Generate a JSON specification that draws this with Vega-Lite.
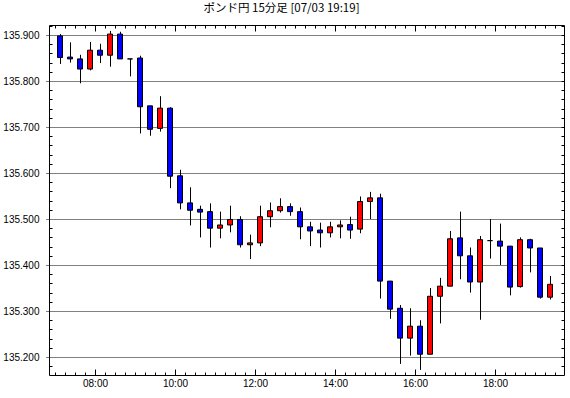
{
  "$schema": "https://vega.github.io/schema/vega-lite/v6.json",
  "width": 515,
  "height": 350,
  "autosize": {"type": "none"},
  "padding": {"left": 49, "top": 25, "right": 6, "bottom": 23},
  "background": "white",
  "config": {"view": {"stroke": "black", "strokeWidth": 1}},
  "title": {"text": "ポンド円 15分足 [07/03 19:19]", "font": "Noto Sans CJK JP", "fontSize": 11.5, "fontWeight": "normal", "color": "black", "anchor": "middle", "dx": -25, "offset": 6},
  "data": {"values": [
    {"t": "2024-07-03T07:00", "o": 135.898, "h": 135.902, "l": 135.837, "c": 135.851},
    {"t": "2024-07-03T07:15", "o": 135.852, "h": 135.884, "l": 135.840, "c": 135.848},
    {"t": "2024-07-03T07:30", "o": 135.848, "h": 135.857, "l": 135.795, "c": 135.826},
    {"t": "2024-07-03T07:45", "o": 135.826, "h": 135.885, "l": 135.823, "c": 135.867},
    {"t": "2024-07-03T08:00", "o": 135.867, "h": 135.881, "l": 135.839, "c": 135.856},
    {"t": "2024-07-03T08:15", "o": 135.856, "h": 135.909, "l": 135.831, "c": 135.902},
    {"t": "2024-07-03T08:30", "o": 135.902, "h": 135.907, "l": 135.848, "c": 135.848},
    {"t": "2024-07-03T08:45", "o": 135.848, "h": 135.848, "l": 135.810, "c": 135.848},
    {"t": "2024-07-03T09:00", "o": 135.850, "h": 135.855, "l": 135.686, "c": 135.744},
    {"t": "2024-07-03T09:15", "o": 135.746, "h": 135.746, "l": 135.681, "c": 135.695},
    {"t": "2024-07-03T09:30", "o": 135.697, "h": 135.767, "l": 135.690, "c": 135.741},
    {"t": "2024-07-03T09:45", "o": 135.741, "h": 135.743, "l": 135.567, "c": 135.593},
    {"t": "2024-07-03T10:00", "o": 135.594, "h": 135.607, "l": 135.521, "c": 135.535},
    {"t": "2024-07-03T10:15", "o": 135.535, "h": 135.569, "l": 135.486, "c": 135.519},
    {"t": "2024-07-03T10:30", "o": 135.521, "h": 135.529, "l": 135.460, "c": 135.515},
    {"t": "2024-07-03T10:45", "o": 135.516, "h": 135.534, "l": 135.438, "c": 135.480},
    {"t": "2024-07-03T11:00", "o": 135.480, "h": 135.516, "l": 135.458, "c": 135.487},
    {"t": "2024-07-03T11:15", "o": 135.487, "h": 135.529, "l": 135.471, "c": 135.499},
    {"t": "2024-07-03T11:30", "o": 135.499, "h": 135.506, "l": 135.438, "c": 135.444},
    {"t": "2024-07-03T11:45", "o": 135.444, "h": 135.466, "l": 135.413, "c": 135.448},
    {"t": "2024-07-03T12:00", "o": 135.448, "h": 135.529, "l": 135.441, "c": 135.505},
    {"t": "2024-07-03T12:15", "o": 135.505, "h": 135.536, "l": 135.482, "c": 135.518},
    {"t": "2024-07-03T12:30", "o": 135.518, "h": 135.545, "l": 135.514, "c": 135.527},
    {"t": "2024-07-03T12:45", "o": 135.527, "h": 135.534, "l": 135.507, "c": 135.516},
    {"t": "2024-07-03T13:00", "o": 135.516, "h": 135.525, "l": 135.456, "c": 135.483},
    {"t": "2024-07-03T13:15", "o": 135.483, "h": 135.494, "l": 135.441, "c": 135.474},
    {"t": "2024-07-03T13:30", "o": 135.476, "h": 135.492, "l": 135.438, "c": 135.470},
    {"t": "2024-07-03T13:45", "o": 135.470, "h": 135.494, "l": 135.460, "c": 135.483},
    {"t": "2024-07-03T14:00", "o": 135.483, "h": 135.497, "l": 135.458, "c": 135.487},
    {"t": "2024-07-03T14:15", "o": 135.488, "h": 135.505, "l": 135.457, "c": 135.476},
    {"t": "2024-07-03T14:30", "o": 135.478, "h": 135.549, "l": 135.469, "c": 135.538},
    {"t": "2024-07-03T14:45", "o": 135.538, "h": 135.559, "l": 135.500, "c": 135.546},
    {"t": "2024-07-03T15:00", "o": 135.546, "h": 135.555, "l": 135.327, "c": 135.365},
    {"t": "2024-07-03T15:15", "o": 135.365, "h": 135.365, "l": 135.283, "c": 135.304},
    {"t": "2024-07-03T15:30", "o": 135.306, "h": 135.313, "l": 135.185, "c": 135.241},
    {"t": "2024-07-03T15:45", "o": 135.241, "h": 135.306, "l": 135.203, "c": 135.267},
    {"t": "2024-07-03T16:00", "o": 135.267, "h": 135.280, "l": 135.172, "c": 135.206},
    {"t": "2024-07-03T16:15", "o": 135.206, "h": 135.350, "l": 135.206, "c": 135.332},
    {"t": "2024-07-03T16:30", "o": 135.332, "h": 135.372, "l": 135.273, "c": 135.354},
    {"t": "2024-07-03T16:45", "o": 135.354, "h": 135.474, "l": 135.354, "c": 135.457},
    {"t": "2024-07-03T17:00", "o": 135.459, "h": 135.516, "l": 135.369, "c": 135.420},
    {"t": "2024-07-03T17:15", "o": 135.420, "h": 135.438, "l": 135.340, "c": 135.363},
    {"t": "2024-07-03T17:30", "o": 135.363, "h": 135.463, "l": 135.281, "c": 135.455},
    {"t": "2024-07-03T17:45", "o": 135.453, "h": 135.500, "l": 135.414, "c": 135.453},
    {"t": "2024-07-03T18:00", "o": 135.452, "h": 135.490, "l": 135.400, "c": 135.441},
    {"t": "2024-07-03T18:15", "o": 135.441, "h": 135.441, "l": 135.334, "c": 135.352},
    {"t": "2024-07-03T18:30", "o": 135.353, "h": 135.460, "l": 135.351, "c": 135.455},
    {"t": "2024-07-03T18:45", "o": 135.455, "h": 135.457, "l": 135.384, "c": 135.437},
    {"t": "2024-07-03T19:00", "o": 135.437, "h": 135.437, "l": 135.327, "c": 135.330},
    {"t": "2024-07-03T19:15", "o": 135.330, "h": 135.376, "l": 135.325, "c": 135.358}
  ]},
  "layer": [
    {
      "mark": {"type": "rule", "color": "black", "strokeWidth": 1, "xOffset": 5.5},
      "encoding": {
        "x": {"field": "t", "type": "temporal",
          "scale": {"domain": [{"year": 2024, "month": 7, "date": 3, "hours": 6, "minutes": 51, "seconds": 0}, {"year": 2024, "month": 7, "date": 3, "hours": 19, "minutes": 43, "seconds": 30}], "nice": false, "padding": 0},
          "axis": {"orient": "bottom", "title": null, "domain": false, "grid": false,
            "values": [
              {"year": 2024, "month": 7, "date": 3, "hours": 7, "minutes": 0}, {"year": 2024, "month": 7, "date": 3, "hours": 7, "minutes": 15}, {"year": 2024, "month": 7, "date": 3, "hours": 7, "minutes": 30}, {"year": 2024, "month": 7, "date": 3, "hours": 7, "minutes": 45},
              {"year": 2024, "month": 7, "date": 3, "hours": 8, "minutes": 0}, {"year": 2024, "month": 7, "date": 3, "hours": 8, "minutes": 15}, {"year": 2024, "month": 7, "date": 3, "hours": 8, "minutes": 30}, {"year": 2024, "month": 7, "date": 3, "hours": 8, "minutes": 45},
              {"year": 2024, "month": 7, "date": 3, "hours": 9, "minutes": 0}, {"year": 2024, "month": 7, "date": 3, "hours": 9, "minutes": 15}, {"year": 2024, "month": 7, "date": 3, "hours": 9, "minutes": 30}, {"year": 2024, "month": 7, "date": 3, "hours": 9, "minutes": 45},
              {"year": 2024, "month": 7, "date": 3, "hours": 10, "minutes": 0}, {"year": 2024, "month": 7, "date": 3, "hours": 10, "minutes": 15}, {"year": 2024, "month": 7, "date": 3, "hours": 10, "minutes": 30}, {"year": 2024, "month": 7, "date": 3, "hours": 10, "minutes": 45},
              {"year": 2024, "month": 7, "date": 3, "hours": 11, "minutes": 0}, {"year": 2024, "month": 7, "date": 3, "hours": 11, "minutes": 15}, {"year": 2024, "month": 7, "date": 3, "hours": 11, "minutes": 30}, {"year": 2024, "month": 7, "date": 3, "hours": 11, "minutes": 45},
              {"year": 2024, "month": 7, "date": 3, "hours": 12, "minutes": 0}, {"year": 2024, "month": 7, "date": 3, "hours": 12, "minutes": 15}, {"year": 2024, "month": 7, "date": 3, "hours": 12, "minutes": 30}, {"year": 2024, "month": 7, "date": 3, "hours": 12, "minutes": 45},
              {"year": 2024, "month": 7, "date": 3, "hours": 13, "minutes": 0}, {"year": 2024, "month": 7, "date": 3, "hours": 13, "minutes": 15}, {"year": 2024, "month": 7, "date": 3, "hours": 13, "minutes": 30}, {"year": 2024, "month": 7, "date": 3, "hours": 13, "minutes": 45},
              {"year": 2024, "month": 7, "date": 3, "hours": 14, "minutes": 0}, {"year": 2024, "month": 7, "date": 3, "hours": 14, "minutes": 15}, {"year": 2024, "month": 7, "date": 3, "hours": 14, "minutes": 30}, {"year": 2024, "month": 7, "date": 3, "hours": 14, "minutes": 45},
              {"year": 2024, "month": 7, "date": 3, "hours": 15, "minutes": 0}, {"year": 2024, "month": 7, "date": 3, "hours": 15, "minutes": 15}, {"year": 2024, "month": 7, "date": 3, "hours": 15, "minutes": 30}, {"year": 2024, "month": 7, "date": 3, "hours": 15, "minutes": 45},
              {"year": 2024, "month": 7, "date": 3, "hours": 16, "minutes": 0}, {"year": 2024, "month": 7, "date": 3, "hours": 16, "minutes": 15}, {"year": 2024, "month": 7, "date": 3, "hours": 16, "minutes": 30}, {"year": 2024, "month": 7, "date": 3, "hours": 16, "minutes": 45},
              {"year": 2024, "month": 7, "date": 3, "hours": 17, "minutes": 0}, {"year": 2024, "month": 7, "date": 3, "hours": 17, "minutes": 15}, {"year": 2024, "month": 7, "date": 3, "hours": 17, "minutes": 30}, {"year": 2024, "month": 7, "date": 3, "hours": 17, "minutes": 45},
              {"year": 2024, "month": 7, "date": 3, "hours": 18, "minutes": 0}, {"year": 2024, "month": 7, "date": 3, "hours": 18, "minutes": 15}, {"year": 2024, "month": 7, "date": 3, "hours": 18, "minutes": 30}, {"year": 2024, "month": 7, "date": 3, "hours": 18, "minutes": 45},
              {"year": 2024, "month": 7, "date": 3, "hours": 19, "minutes": 0}, {"year": 2024, "month": 7, "date": 3, "hours": 19, "minutes": 15}, {"year": 2024, "month": 7, "date": 3, "hours": 19, "minutes": 30}
            ],
            "format": "%H:%M",
            "labelExpr": "minutes(datum.value) == 0 && hours(datum.value) % 2 == 0 ? datum.label : ''",
            "labelFont": "Liberation Sans", "labelFontSize": 10, "labelColor": "black",
            "labelPadding": 9, "labelFlush": false, "labelOverlap": false, "labelDx": -3,
            "tickColor": "black", "tickWidth": 1,
            "tickSize": {"condition": {"test": "minutes(datum.value) == 0 && hours(datum.value) % 2 == 0", "value": -6}, "value": -3}}},
        "y": {"field": "l", "type": "quantitative",
          "scale": {"domain": [135.16086956521739, 135.92173913043478], "nice": false, "zero": false, "padding": 0},
          "axis": {"orient": "left", "title": null, "domain": false,
            "values": [135.18, 135.2, 135.22, 135.24, 135.26, 135.28, 135.3, 135.32, 135.34, 135.36, 135.38, 135.4, 135.42, 135.44, 135.46, 135.48, 135.5, 135.52, 135.54, 135.56, 135.58, 135.6, 135.62, 135.64, 135.66, 135.68, 135.7, 135.72, 135.74, 135.76, 135.78, 135.8, 135.82, 135.84, 135.86, 135.88, 135.9, 135.92],
            "labelExpr": "abs(datum.value * 10 - round(datum.value * 10)) < 0.01 ? format(datum.value, '.3f') : ''",
            "labelFont": "Liberation Sans", "labelFontSize": 10, "labelColor": "black",
            "labelPadding": 6, "labelOverlap": false, "labelFlush": false,
            "grid": true, "gridColor": "black", "gridDash": [1, 1], "gridWidth": 1,
            "gridOpacity": {"condition": {"test": "abs(datum.value * 10 - round(datum.value * 10)) < 0.01", "value": 1}, "value": 0},
            "tickColor": "black", "tickWidth": 1,
            "tickDash": {"condition": {"test": "abs(datum.value * 10 - round(datum.value * 10)) < 0.01", "value": [1, 1]}, "value": []},
            "tickSize": {"condition": {"test": "abs(datum.value * 10 - round(datum.value * 10)) < 0.01", "value": 4}, "value": -3}}},
        "y2": {"field": "h"}
      }
    },
    {
      "mark": {"type": "bar", "width": 5, "stroke": "black", "strokeWidth": 1, "xOffset": 5},
      "encoding": {
        "x": {"field": "t", "type": "temporal",
          "scale": {"domain": [{"year": 2024, "month": 7, "date": 3, "hours": 6, "minutes": 51, "seconds": 0}, {"year": 2024, "month": 7, "date": 3, "hours": 19, "minutes": 43, "seconds": 30}], "nice": false, "padding": 0},
          "axis": {"orient": "top", "title": null, "domain": false, "grid": false, "labels": false,
            "values": [
              {"year": 2024, "month": 7, "date": 3, "hours": 7, "minutes": 0}, {"year": 2024, "month": 7, "date": 3, "hours": 7, "minutes": 15}, {"year": 2024, "month": 7, "date": 3, "hours": 7, "minutes": 30}, {"year": 2024, "month": 7, "date": 3, "hours": 7, "minutes": 45},
              {"year": 2024, "month": 7, "date": 3, "hours": 8, "minutes": 0}, {"year": 2024, "month": 7, "date": 3, "hours": 8, "minutes": 15}, {"year": 2024, "month": 7, "date": 3, "hours": 8, "minutes": 30}, {"year": 2024, "month": 7, "date": 3, "hours": 8, "minutes": 45},
              {"year": 2024, "month": 7, "date": 3, "hours": 9, "minutes": 0}, {"year": 2024, "month": 7, "date": 3, "hours": 9, "minutes": 15}, {"year": 2024, "month": 7, "date": 3, "hours": 9, "minutes": 30}, {"year": 2024, "month": 7, "date": 3, "hours": 9, "minutes": 45},
              {"year": 2024, "month": 7, "date": 3, "hours": 10, "minutes": 0}, {"year": 2024, "month": 7, "date": 3, "hours": 10, "minutes": 15}, {"year": 2024, "month": 7, "date": 3, "hours": 10, "minutes": 30}, {"year": 2024, "month": 7, "date": 3, "hours": 10, "minutes": 45},
              {"year": 2024, "month": 7, "date": 3, "hours": 11, "minutes": 0}, {"year": 2024, "month": 7, "date": 3, "hours": 11, "minutes": 15}, {"year": 2024, "month": 7, "date": 3, "hours": 11, "minutes": 30}, {"year": 2024, "month": 7, "date": 3, "hours": 11, "minutes": 45},
              {"year": 2024, "month": 7, "date": 3, "hours": 12, "minutes": 0}, {"year": 2024, "month": 7, "date": 3, "hours": 12, "minutes": 15}, {"year": 2024, "month": 7, "date": 3, "hours": 12, "minutes": 30}, {"year": 2024, "month": 7, "date": 3, "hours": 12, "minutes": 45},
              {"year": 2024, "month": 7, "date": 3, "hours": 13, "minutes": 0}, {"year": 2024, "month": 7, "date": 3, "hours": 13, "minutes": 15}, {"year": 2024, "month": 7, "date": 3, "hours": 13, "minutes": 30}, {"year": 2024, "month": 7, "date": 3, "hours": 13, "minutes": 45},
              {"year": 2024, "month": 7, "date": 3, "hours": 14, "minutes": 0}, {"year": 2024, "month": 7, "date": 3, "hours": 14, "minutes": 15}, {"year": 2024, "month": 7, "date": 3, "hours": 14, "minutes": 30}, {"year": 2024, "month": 7, "date": 3, "hours": 14, "minutes": 45},
              {"year": 2024, "month": 7, "date": 3, "hours": 15, "minutes": 0}, {"year": 2024, "month": 7, "date": 3, "hours": 15, "minutes": 15}, {"year": 2024, "month": 7, "date": 3, "hours": 15, "minutes": 30}, {"year": 2024, "month": 7, "date": 3, "hours": 15, "minutes": 45},
              {"year": 2024, "month": 7, "date": 3, "hours": 16, "minutes": 0}, {"year": 2024, "month": 7, "date": 3, "hours": 16, "minutes": 15}, {"year": 2024, "month": 7, "date": 3, "hours": 16, "minutes": 30}, {"year": 2024, "month": 7, "date": 3, "hours": 16, "minutes": 45},
              {"year": 2024, "month": 7, "date": 3, "hours": 17, "minutes": 0}, {"year": 2024, "month": 7, "date": 3, "hours": 17, "minutes": 15}, {"year": 2024, "month": 7, "date": 3, "hours": 17, "minutes": 30}, {"year": 2024, "month": 7, "date": 3, "hours": 17, "minutes": 45},
              {"year": 2024, "month": 7, "date": 3, "hours": 18, "minutes": 0}, {"year": 2024, "month": 7, "date": 3, "hours": 18, "minutes": 15}, {"year": 2024, "month": 7, "date": 3, "hours": 18, "minutes": 30}, {"year": 2024, "month": 7, "date": 3, "hours": 18, "minutes": 45},
              {"year": 2024, "month": 7, "date": 3, "hours": 19, "minutes": 0}, {"year": 2024, "month": 7, "date": 3, "hours": 19, "minutes": 15}, {"year": 2024, "month": 7, "date": 3, "hours": 19, "minutes": 30}
            ],
            "tickColor": "black", "tickWidth": 1,
            "tickSize": {"condition": {"test": "minutes(datum.value) == 0 && hours(datum.value) % 2 == 0", "value": -6}, "value": -3}}},
        "y": {"field": "o", "type": "quantitative",
          "scale": {"domain": [135.16086956521739, 135.92173913043478], "nice": false, "zero": false, "padding": 0},
          "axis": {"orient": "right", "title": null, "domain": false, "grid": false, "labels": false,
            "values": [135.18, 135.2, 135.22, 135.24, 135.26, 135.28, 135.3, 135.32, 135.34, 135.36, 135.38, 135.4, 135.42, 135.44, 135.46, 135.48, 135.5, 135.52, 135.54, 135.56, 135.58, 135.6, 135.62, 135.64, 135.66, 135.68, 135.7, 135.72, 135.74, 135.76, 135.78, 135.8, 135.82, 135.84, 135.86, 135.88, 135.9, 135.92],
            "tickColor": "black", "tickWidth": 1, "tickSize": -3}},
        "y2": {"field": "c"},
        "fill": {"condition": {"test": "datum.c > datum.o", "value": "#ff0000"}, "value": "#0000ff"}
      }
    }
  ],
  "resolve": {"axis": {"x": "independent", "y": "independent"}}
}
